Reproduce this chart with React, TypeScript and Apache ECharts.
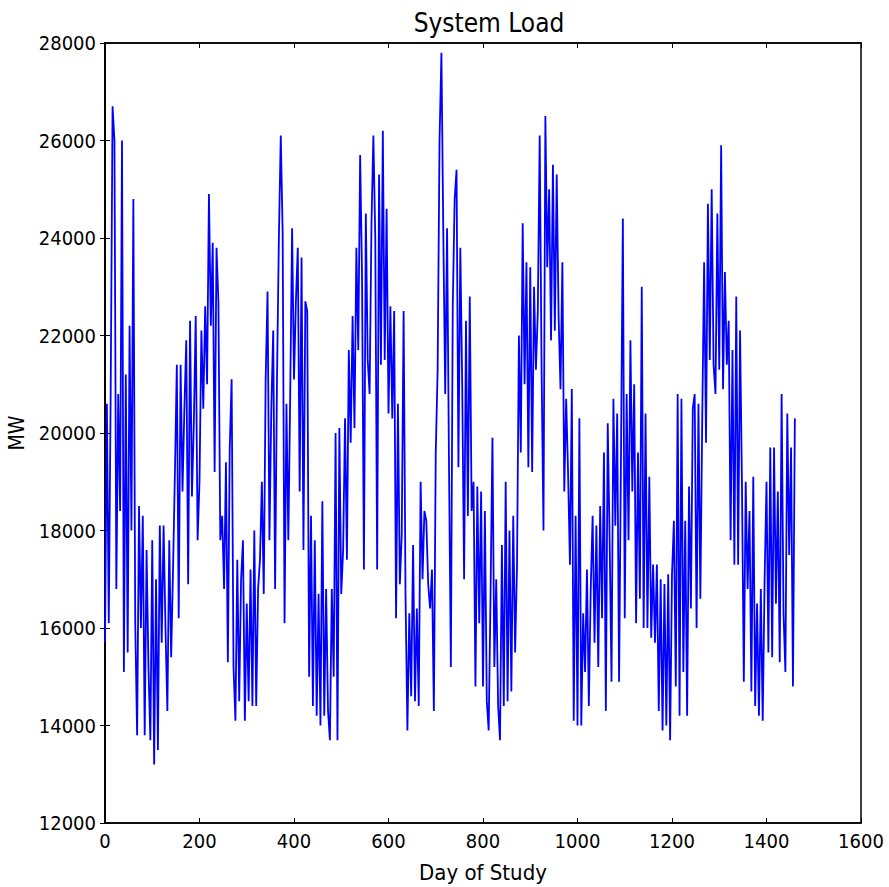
import React, { useEffect, useRef } from "react";
import * as echarts from "echarts";

const DAY_STEP = 4;
const load: number[] = [
  15700, 20600, 16100, 20800, 26700, 26000, 16800, 20800, 18400, 26000,
  15100, 21200, 15500, 22200, 18000, 24800, 16100, 13800, 18500, 16000,
  18300, 13800, 17600, 15200, 13700, 17800, 13200, 17000, 13500, 18100,
  15700, 18100, 16000, 14300, 17800, 15400, 17200, 19200, 21400, 16200,
  21400, 18800, 20500, 21900, 16900, 22300, 18700, 20200, 22400, 17800,
  19000, 22100, 20500, 22600, 21000, 24900, 22200, 23900, 19200, 23800,
  22700, 17800, 18300, 16800, 19400, 15300, 19700, 21100, 15200, 14100,
  17400, 14500, 17000, 17800, 14100, 16500, 14500, 17200, 14400, 18000,
  14400, 16800, 17400, 19000, 16700, 21100, 22900, 17800, 20500, 22100,
  16800, 21100, 24000, 26100, 24100, 16100, 20600, 17800, 20800, 24200,
  21100, 22700, 23800, 18800, 23600, 17600, 22700, 22500, 15000, 18300,
  14400, 17800, 14200, 16700, 14000, 18600, 14200, 16800, 14300, 13700,
  16800, 15000, 20000, 13700, 20100, 16700, 17600, 20300, 17400, 21700,
  19800, 22400, 20100, 23800, 21700, 25700, 23200, 17200, 24500, 21500,
  20800, 24300, 26100, 24000, 17200, 25300, 21400, 26200, 21500, 24600,
  20400, 22600, 20300, 22500, 16200, 20600, 16900, 17900, 22500, 16700,
  13900, 16300, 14600, 17700, 14500, 16400, 14400, 19000, 17000, 18400,
  18200, 16900, 16400, 17200, 14300, 19600, 21300, 26000, 27800, 24100,
  20800, 24200, 19400, 15200, 22600, 24800, 25400, 19300, 23800, 21000,
  17000, 22300, 18300, 22800, 18400, 19000, 14800, 18900, 16100, 18800,
  14800, 18400, 14500, 13900, 16700, 19900, 15200, 17000, 14400, 13700,
  17700, 14400, 19000, 14500, 18000, 14700, 18300, 15500, 17300, 22000,
  19600, 24300, 21000, 23500, 19300, 23400, 19200, 23000, 21300, 22500,
  26100, 21300, 18000, 26500, 23400, 25000, 21900, 25500, 22100, 25300,
  22400, 20900, 23500, 18800, 20700, 19200, 17300, 20900, 14100, 18300,
  14000, 20300, 14000, 16300, 15100, 17200, 14400, 16800, 18300, 15700,
  18100, 15200, 18500, 16200, 19600, 14300, 20200, 17800, 14900, 20700,
  18100, 20400, 14900, 19500, 24400, 16200, 20800, 17800, 21900, 18800,
  21000, 16100, 19600, 16600, 23000, 16000, 20400, 16000, 19100, 15800,
  17300, 15700, 17300, 14300, 17000, 13900, 16900, 14000, 17100, 13700,
  17100, 18200, 14800, 20800, 14200, 20700, 15100, 18200, 14200, 18900,
  16400, 20500, 20800, 16000, 20600, 16600, 20300, 23500, 19800, 24700,
  21500, 25000, 21400, 20800, 24500, 21300, 25900, 20900, 23300, 21400,
  22300, 17800, 21700, 17300, 22800, 17300, 22100, 19000, 14900, 19000,
  16800, 18400, 14700, 19100, 14400, 16500, 14200, 16800, 14100, 17000,
  19000, 15500, 19700, 15400, 19700, 16500, 18800, 15300, 20800, 16300,
  15100, 20400, 17500, 19700, 14800, 20300,
];

const TITLE = "System Load";
const X_NAME = "Day of Study";
const Y_NAME = "MW";
const X_MIN = 0;
const X_MAX = 1600;
const X_INTERVAL = 200;
const Y_MIN = 12000;
const Y_MAX = 28000;
const Y_INTERVAL = 2000;

const FONT = "'DejaVu Sans Condensed', 'DejaVu Sans', sans-serif";

export default function App() {
  const ref = useRef<HTMLDivElement>(null);

  useEffect(() => {
    if (!ref.current) return;
    const chart = echarts.init(ref.current, null, { renderer: "svg" });
    const seriesData = load.map((v, i) => [i * DAY_STEP, v]);

    const tick = { show: true, inside: true, length: 5, lineStyle: { color: "#000", width: 1 } };
    const hiddenLabel = { show: false };
    const plain = (v: number) => String(v);

    chart.setOption({
      animation: false,
      backgroundColor: "#fff",
      title: {
        text: TITLE,
        left: 484,
        top: 5,
        textAlign: "center",
        textStyle: { fontFamily: FONT, fontSize: 26, fontWeight: "normal", color: "#000" },
      },
      grid: {
        left: 105,
        top: 43,
        right: 28,
        bottom: 64,
        containLabel: false,
        outerBoundsMode: "none",
        show: true,
        borderColor: "#000",
        borderWidth: 1.5,
        backgroundColor: "#fff",
      },
      xAxis: [
        {
          type: "value",
          min: X_MIN,
          max: X_MAX,
          interval: X_INTERVAL,
          name: X_NAME,
          nameLocation: "middle",
          nameGap: 38,
          nameTextStyle: { fontFamily: FONT, fontSize: 22, color: "#000" },
          axisLine: { show: true, lineStyle: { color: "#000", width: 1.5 } },
          axisTick: tick,
          axisLabel: { fontFamily: FONT, fontSize: 20, color: "#000", margin: 8, formatter: plain },
          splitLine: { show: false },
        },
        {
          type: "value",
          position: "top",
          min: X_MIN,
          max: X_MAX,
          interval: X_INTERVAL,
          axisLine: { show: true, lineStyle: { color: "#000", width: 1.5 } },
          axisTick: tick,
          axisLabel: hiddenLabel,
          splitLine: { show: false },
        },
      ],
      yAxis: [
        {
          type: "value",
          min: Y_MIN,
          max: Y_MAX,
          interval: Y_INTERVAL,
          name: Y_NAME,
          nameLocation: "middle",
          nameGap: 76,
          nameRotate: 90,
          nameTextStyle: { fontFamily: FONT, fontSize: 21, color: "#000" },
          axisLine: { show: true, lineStyle: { color: "#000", width: 1.5 } },
          axisTick: tick,
          axisLabel: { fontFamily: FONT, fontSize: 20, color: "#000", margin: 9, formatter: plain },
          splitLine: { show: false },
        },
        {
          type: "value",
          position: "right",
          min: Y_MIN,
          max: Y_MAX,
          interval: Y_INTERVAL,
          axisLine: { show: true, lineStyle: { color: "#000", width: 1.5 } },
          axisTick: tick,
          axisLabel: hiddenLabel,
          splitLine: { show: false },
        },
      ],
      series: [
        {
          type: "line",
          data: seriesData,
          xAxisIndex: 0,
          yAxisIndex: 0,
          showSymbol: false,
          symbol: "none",
          lineStyle: { color: "#0000ff", width: 1.8 },
        },
      ],
    });

    return () => chart.dispose();
  }, []);

  return (
    <div
      ref={ref}
      style={{ position: "fixed", left: 0, top: 0, width: 889, height: 887, background: "#fff" }}
    />
  );
}
